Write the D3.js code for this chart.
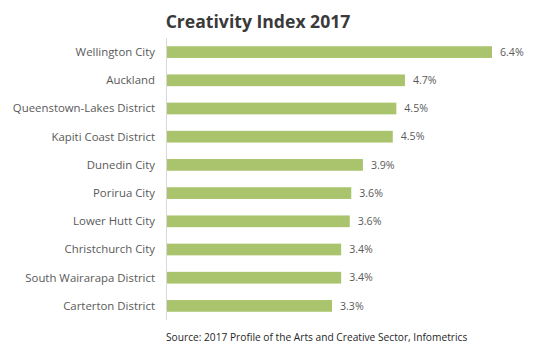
<!DOCTYPE html>
<html>
<head>
<meta charset="utf-8">
<script src="https://cdn.jsdelivr.net/npm/d3@7"></script>
<style>
  body { margin: 0; background: #fff; }
  svg text { font-family: "Open Sans", "Noto Sans", sans-serif; }
</style>
</head>
<body>
<div id="chart"></div>
<script>
const regions = ["Wellington City", "Auckland", "Queenstown-Lakes District", "Kapiti Coast District",
  "Dunedin City", "Porirua City", "Lower Hutt City", "Christchurch City",
  "South Wairarapa District", "Carterton District"];
const index2017 = [6.42, 4.7, 4.53, 4.46, 3.87, 3.64, 3.61, 3.44, 3.44, 3.26];

const chartTitle = "Creativity Index 2017";
const sourceNote = "Source: 2017 Profile of the Arts and Creative Sector, Infometrics";

const W = 538, H = 354;
const dataset = regions.map((r, i) => ({ region: r, value: index2017[i] }));

const svg = d3.select("#chart").append("svg")
  .attr("width", W)
  .attr("height", H);

const x = d3.scaleLinear().domain([0, 6.42]).range([167, 492]);
const y = d3.scaleBand().domain(regions).range([38, 320])
  .paddingInner(0.585).paddingOuter(0.2925);

// category axis (line only, labels to the left)
svg.append("line")
  .attr("x1", 166.5).attr("x2", 166.5)
  .attr("y1", 38).attr("y2", 320)
  .attr("stroke", "#d9d9d9");

svg.selectAll("rect.bar")
  .data(dataset)
  .enter()
  .append("rect")
  .attr("class", "bar")
  .attr("x", x(0))
  .attr("y", d => y(d.region))
  .attr("width", d => x(d.value) - x(0))
  .attr("height", y.bandwidth())
  .attr("fill", "#a9c46c");

svg.selectAll("text.cat")
  .data(dataset)
  .enter()
  .append("text")
  .attr("class", "cat")
  .attr("x", 155)
  .attr("y", d => y(d.region) + y.bandwidth() / 2)
  .attr("dy", "0.35em")
  .attr("text-anchor", "end")
  .style("font-size", "11.4px")
  .style("fill", "#595959")
  .text(d => d.region);

svg.selectAll("text.val")
  .data(dataset)
  .enter()
  .append("text")
  .attr("class", "val")
  .attr("x", d => x(d.value) + 8)
  .attr("y", d => y(d.region) + y.bandwidth() / 2)
  .attr("dy", "0.35em")
  .style("font-size", "10.6px")
  .style("fill", "#595959")
  .text(d => d.value.toFixed(1) + "%");

svg.append("text")
  .attr("x", 258)
  .attr("y", 28)
  .attr("text-anchor", "middle")
  .style("font-size", "17.6px")
  .style("font-weight", "bold")
  .style("fill", "#3a3a3a")
  .text(chartTitle);

svg.append("text")
  .attr("x", 166)
  .attr("y", 341)
  .style("font-size", "10.2px")
  .style("fill", "#262626")
  .text(sourceNote);
</script>
</body>
</html>
